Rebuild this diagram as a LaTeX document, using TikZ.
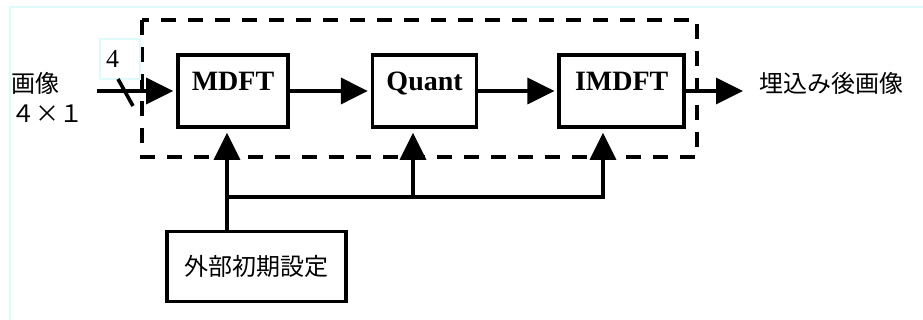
\documentclass[tikz,border=0pt]{standalone}
\usepackage{fontspec}
\setmainfont{Liberation Serif}
\newfontfamily\jpfont{Noto Sans CJK JP}
\usetikzlibrary{positioning, arrows.meta}
\definecolor{guide}{RGB}{222,250,250}

\begin{document}
\begin{tikzpicture}[x=0.5pt, y=-0.5pt, line width=1.8pt,
  block/.style={rectangle, draw=black, line width=1.8pt, font=\bfseries\fontsize{14}{16}\selectfont, minimum height=36pt, text height=17pt, text depth=17pt, inner ysep=0pt},
  setup/.style={rectangle, draw=black, line width=1.8pt, font=\jpfont\fontsize{12}{14}\selectfont, minimum width=89.5pt, minimum height=35pt},
  jptext/.style={font=\jpfont\fontsize{12}{15}\selectfont},
  arrow/.style={line width=1.8pt, -{Triangle[length=13.5pt, width=13pt]}},
  dashbox/.style={line width=1.8pt, dash pattern=on 7.5pt off 6pt}
]
\useasboundingbox (0,0) rectangle (923,320);
\draw[guide, line width=0.6pt] (10,330) |- (930,7);

% processing blocks
\node (mdft) [block, minimum width=55pt] at (233,91) {MDFT};
\node (quant) [block, minimum width=52pt, right=40.5pt of mdft] {Quant};
\node (imdft) [block, minimum width=62.5pt, right=39.5pt of quant] {IMDFT};
\node (init) [setup, below=50.5pt of mdft, xshift=11.75pt] {外部初期設定};

\draw[dashbox] (142,20) rectangle (697,157);

% input and output
\node (src) [jptext, anchor=west, align=left] at (3,97) {画像\\４×１};
\node (dst) [jptext, anchor=west] at (751,83) {埋込み後画像};
\node (width) [draw=guide, line width=0.6pt, minimum width=20pt, minimum height=20pt, text width=14pt, inner xsep=3pt, font=\fontsize{13}{14}\selectfont] at (120,59) {4};
\coordinate (in) at (97,91);
\coordinate (out) at (743,91);

\draw[arrow, shorten >=1.5pt] (in) -- (mdft);
\draw (118,79) -- (133,106);
\draw[arrow, shorten >=1.5pt] (mdft) -- (quant);
\draw[arrow, shorten >=1.5pt] (quant) -- (imdft);
\draw[arrow] (imdft) -- (out);

% parameter bus
\coordinate (j1) at (227,197);
\coordinate (j2) at (413,197);
\coordinate (j3) at (603,197);
\draw[line cap=rect] (j1) -- (j3);
\draw[arrow, shorten >=2pt] (init.north -| j1) -- (mdft.south -| j1);
\draw[arrow, shorten >=2pt] (j2) -- (quant.south -| j2);
\draw[arrow, shorten >=2pt] (j3) -- (imdft.south -| j3);

\end{tikzpicture}
\end{document}
